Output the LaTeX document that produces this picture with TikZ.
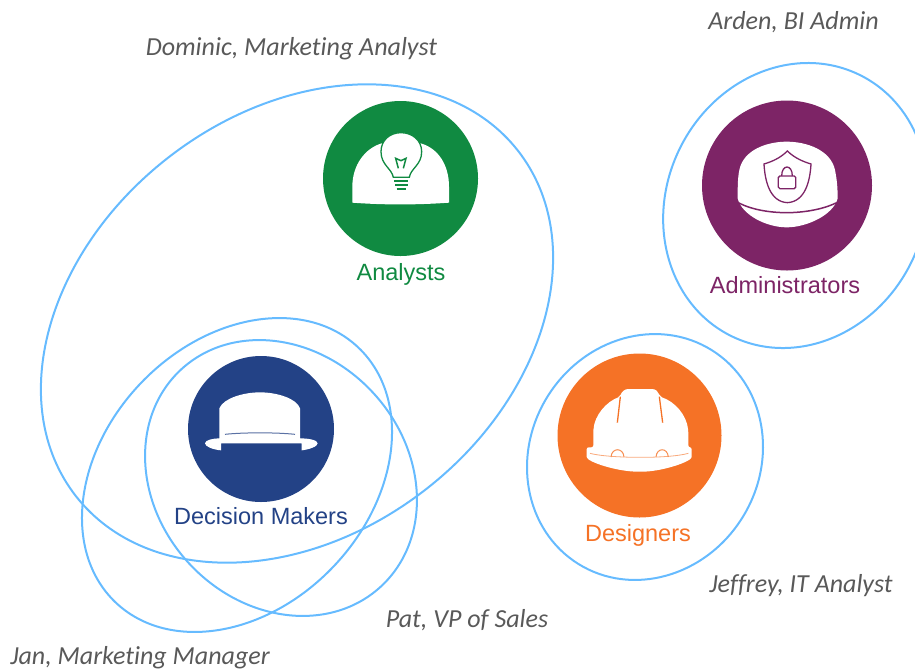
\documentclass[tikz,border=0pt]{standalone}
\usepackage{fontspec}
\setmainfont{Liberation Sans}
\newfontfamily\notefont[Ligatures=NoCommon]{Carlito}
\usetikzlibrary{shapes.geometric}
\definecolor{ringblue}{HTML}{66BBFF}
\definecolor{hgreen}{HTML}{108A41}
\definecolor{hpurple}{HTML}{7D2466}
\definecolor{hblue}{HTML}{234286}
\definecolor{horange}{HTML}{F57226}
\definecolor{notegrey}{HTML}{595959}
\tikzset{
  ring/.style={draw=ringblue,line width=2pt,ellipse,inner sep=0pt,outer sep=0pt,fill=none},
  badge/.style={circle,inner sep=0pt,outer sep=0pt,minimum size=#1},
  role/.style={font=\fontsize{23.5}{28}\selectfont,inner sep=0pt,anchor=base},
  person/.style={font=\notefont\itshape\fontsize{26}{30}\selectfont,text=notegrey,inner sep=0pt,anchor=base},
  zoomed/.style={x=0.33333pt,y=-0.33333pt}
}
\begin{document}
\begin{tikzpicture}[x=1pt,y=-1pt]
\useasboundingbox (0,0) rectangle (915,670);
\clip (0,0) rectangle (915,670);
% badges
\node[badge=155pt,fill=hgreen] (analystsBadge) at (400.5,178.5) {};
\node[badge=170pt,fill=hpurple] (adminBadge) at (787,185.5) {};
\node[badge=146pt,fill=hblue] (decisionBadge) at (261,429) {};
\node[badge=164pt,fill=horange] (designersBadge) at (639.5,435.5) {};
% rings
\node[ring,minimum width=561pt,minimum height=420pt,rotate=38] (analystsRing) at (297,323.5) {};
\node[ring,minimum width=295pt,minimum height=251pt,rotate=-47.6] (patRing) at (281,478) {};
\node[ring,minimum width=352pt,minimum height=266pt,rotate=46.3] (janRing) at (237,475) {};
\node[ring,minimum width=291pt,minimum height=258pt,rotate=64] (adminRing) at (795.5,205.5) {};
\node[ring,minimum width=252pt,minimum height=229.4pt,rotate=58] (designersRing) at (645,457) {};
% green hat
\begin{scope}[shift={(300,90)},zoomed]
\fill[white] (157,338) -- (157,290) .. controls (157,225) and (195,175) .. (245,160) -- (362,160) .. controls (415,175) and (447,225) .. (447,290) -- (447,338) .. controls (350,345) and (250,345) .. (157,338) -- cycle;
\draw[hgreen,fill=white,line width=1.3pt] (280,262) .. controls (275,235) and (243,225) .. (243,185) .. controls (243,150) and (270,128) .. (303,128) .. controls (336,128) and (365,150) .. (365,185) .. controls (365,225) and (332,235) .. (328,262) -- cycle;
\draw[hgreen,line width=2pt] (283,272) -- (325,272) (285,285) -- (323,285) (290,298) -- (318,298);
\draw[hgreen,line width=1.5pt] (295,235) -- (287,205) -- (303,212) -- (318,205) -- (310,235);
\end{scope}
% purple hat
\begin{scope}[shift={(690,90)},zoomed]
\fill[white] (143,325) .. controls (143,290) and (143,265) .. (148,240) .. controls (160,180) and (230,155) .. (290,155) .. controls (350,155) and (422,180) .. (435,240) .. controls (440,265) and (443,290) .. (443,325) .. controls (430,375) and (350,412) .. (290,412) .. controls (230,412) and (155,375) .. (143,325) -- cycle;
\draw[hpurple,line width=1.5pt] (145,338) .. controls (190,362) and (250,368) .. (290,368) .. controls (335,368) and (395,360) .. (440,338);
\draw[hpurple,line width=1.3pt] (292,183) .. controls (270,205) and (245,215) .. (222,222) .. controls (225,275) and (240,335) .. (292,338) .. controls (345,335) and (360,275) .. (363,222) .. controls (340,215) and (315,205) .. (292,183) -- cycle;
\draw[hpurple,line width=1.3pt,rounded corners=1.5pt] (265,258) rectangle (317,296);
\draw[hpurple,line width=1.3pt] (275,258) .. controls (275,222) and (307,222) .. (307,258);
\end{scope}
% blue hat
\begin{scope}[shift={(170,345)},zoomed]
\fill[white] (148,280) -- (148,190) .. controls (160,160) and (220,142) .. (270,142) .. controls (320,142) and (380,160) .. (390,190) -- (390,280) .. controls (415,280) and (443,285) .. (443,295) .. controls (443,305) and (415,314) .. (395,316) -- (395,295) -- (153,295) -- (153,316) .. controls (130,314) and (105,305) .. (105,295) .. controls (105,285) and (130,280) .. (148,280) -- cycle;
\draw[hblue!75,line width=1pt] (165,268) .. controls (220,262) and (320,262) .. (375,268);
\end{scope}
% orange hat
\begin{scope}[shift={(545,360)},zoomed]
\fill[white,rounded corners=2pt] (145,262) -- (145,215) .. controls (148,165) and (185,125) .. (225,110) .. controls (230,95) and (240,87) .. (255,87) -- (315,87) .. controls (332,87) and (340,95) .. (345,110) .. controls (390,125) and (425,165) .. (430,215) -- (430,262) -- (440,262) -- (440,285) .. controls (440,305) and (350,335) .. (285,335) .. controls (215,335) and (125,305) .. (125,285) -- (125,262) -- cycle;
\draw[horange,line width=1.3pt] (226,110) -- (217,188) (343,110) -- (353,188);
\draw[horange!60,line width=0.8pt] (135,280) .. controls (190,295) and (370,297) .. (430,280);
\draw[horange!80,line width=1pt] (198,291) .. controls (200,262) and (235,262) .. (237,291) (333,291) .. controls (335,262) and (368,262) .. (370,291);
\end{scope}
% role labels
\node[role,text=hgreen] (analystsLabel) at (401,280) {Analysts};
\node[role,text=hpurple] (adminLabel) at (785,293) {Administrators};
\node[role,text=hblue] (decisionLabel) at (261,524) {Decision Makers};
\node[role,text=horange] (designersLabel) at (638,541) {Designers};
% people
\node[person] (dominic) at (291.5,55) {Dominic, Marketing Analyst};
\node[person] (arden) at (793.5,29) {Arden, BI Admin};
\node[person] (jeffrey) at (801,592) {Jeffrey, IT Analyst};
\node[person] (pat) at (467,627) {Pat, VP of Sales};
\node[person] (jan) at (140,664) {Jan, Marketing Manager};
\end{tikzpicture}
\end{document}
